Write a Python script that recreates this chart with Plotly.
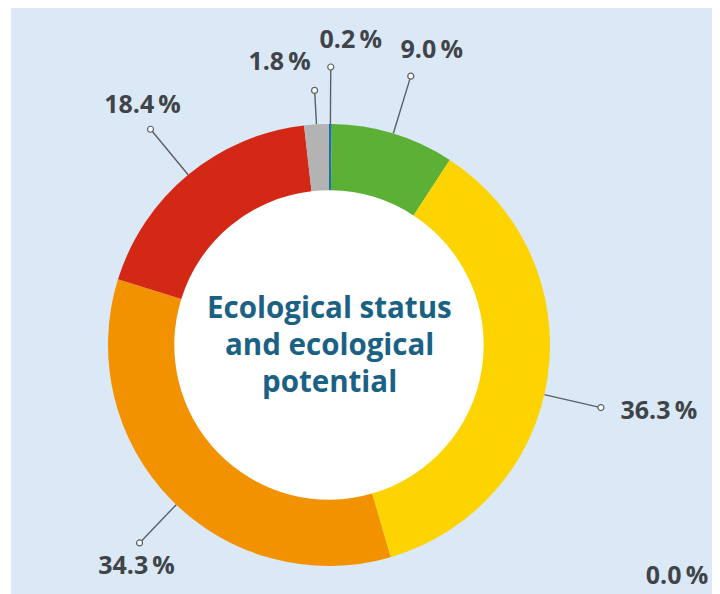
import math
import plotly.graph_objects as go

# ---- data ----
categories = ["High", "Good", "Moderate", "Poor", "Bad", "Unknown", "Not applicable"]
shares = [0.2, 9.0, 36.3, 34.3, 18.4, 1.8, 0.0]
colors = ["#1c6fa8", "#5cb035", "#fdd300", "#f39200", "#d42816", "#b3b3b3", "#ffffff"]
center_lines = ["Ecological status", "and ecological", "potential"]

# ---- layout constants (pixels, figure coordinates; page has 8px body margin) ----
W, H = 720, 594
OFF = 8
CX, CY, R = 329 - OFF, 345 - OFF, 221
HOLE = 0.70
# per-label: leader extension, angle nudge (deg), text dx, dy from pin
leader_ext = [57, 60, 58, 53, 59, 34, None]
angle_nudge = [0, 0, 4.5, -1.8, 0, 0, 0]
text_off = [(20, -25), (21, -24), (58, 5), (-3, 25), (-8, -23), (-35, -27), None]
corner_label_pos = (677 - OFF, 578 - OFF)

label_color = "#404448"
label_font = dict(family="Open Sans", size=25, color=label_color, weight="bold")

fig = go.Figure()

# background
fig.add_shape(type="rect", xref="x", yref="y", x0=11 - OFF, y0=-1, x1=W + 5, y1=H + 5,
              fillcolor="#dbe8f5", line_width=0, layer="below")
# white hole
r_in = R * HOLE
fig.add_shape(type="circle", xref="x", yref="y", x0=CX - r_in - 2, y0=CY - r_in - 2,
              x1=CX + r_in + 2, y1=CY + r_in + 2, fillcolor="white", line_width=0, layer="below")

# leader lines, pins and labels
cum = 0.0
tx, ty, tt = [], [], []
for i, v in enumerate(shares):
    mid = (cum + v / 2) / 100 * 360 + angle_nudge[i]
    cum += v
    label = f"{v:.1f}\u2009%"
    if leader_ext[i] is None:
        tx.append(corner_label_pos[0]); ty.append(corner_label_pos[1]); tt.append(label)
        continue
    a = math.radians(mid)
    sx, sy = CX + R * math.sin(a), CY - R * math.cos(a)
    px = CX + (R + leader_ext[i]) * math.sin(a)
    py = CY - (R + leader_ext[i]) * math.cos(a)
    fig.add_trace(go.Scatter(x=[sx, px], y=[sy, py], mode="lines",
                             line=dict(color="#5a6066", width=1.4),
                             hoverinfo="skip", showlegend=False))
    fig.add_trace(go.Scatter(x=[px], y=[py], mode="markers",
                             marker=dict(symbol="circle", size=6, color="white",
                                         line=dict(color="#5a6066", width=1.2)),
                             hoverinfo="skip", showlegend=False))
    dx, dy = text_off[i]
    tx.append(px + dx); ty.append(py + dy); tt.append(label)

fig.add_trace(go.Scatter(x=tx, y=ty, text=tt, mode="text", textposition="middle center",
                         textfont=label_font, hoverinfo="skip", showlegend=False))

fig.add_trace(go.Pie(
    labels=categories, values=shares, marker=dict(colors=colors, line=dict(width=0)),
    hole=HOLE, sort=False, direction="clockwise", rotation=0,
    textinfo="none", showlegend=False,
    domain=dict(x=[(CX - R) / W, (CX + R) / W], y=[(H - CY - R) / H, (H - CY + R) / H]),
))

for k, line in enumerate(center_lines):
    fig.add_annotation(x=CX, y=CY - 39 + 37 * k, xref="x", yref="y", text=line,
                       showarrow=False, xanchor="center", yanchor="middle",
                       font=dict(family="Open Sans", size=29.5, color="#1a6184", weight="bold"))

fig.update_layout(
    width=W, height=H, margin=dict(l=0, r=0, t=0, b=0),
    paper_bgcolor="white", plot_bgcolor="rgba(0,0,0,0)",
    xaxis=dict(range=[0, W], visible=False, fixedrange=True, domain=[0, 1]),
    yaxis=dict(range=[H, 0], visible=False, fixedrange=True, domain=[0, 1]),
)

fig.write_html("out.html")
